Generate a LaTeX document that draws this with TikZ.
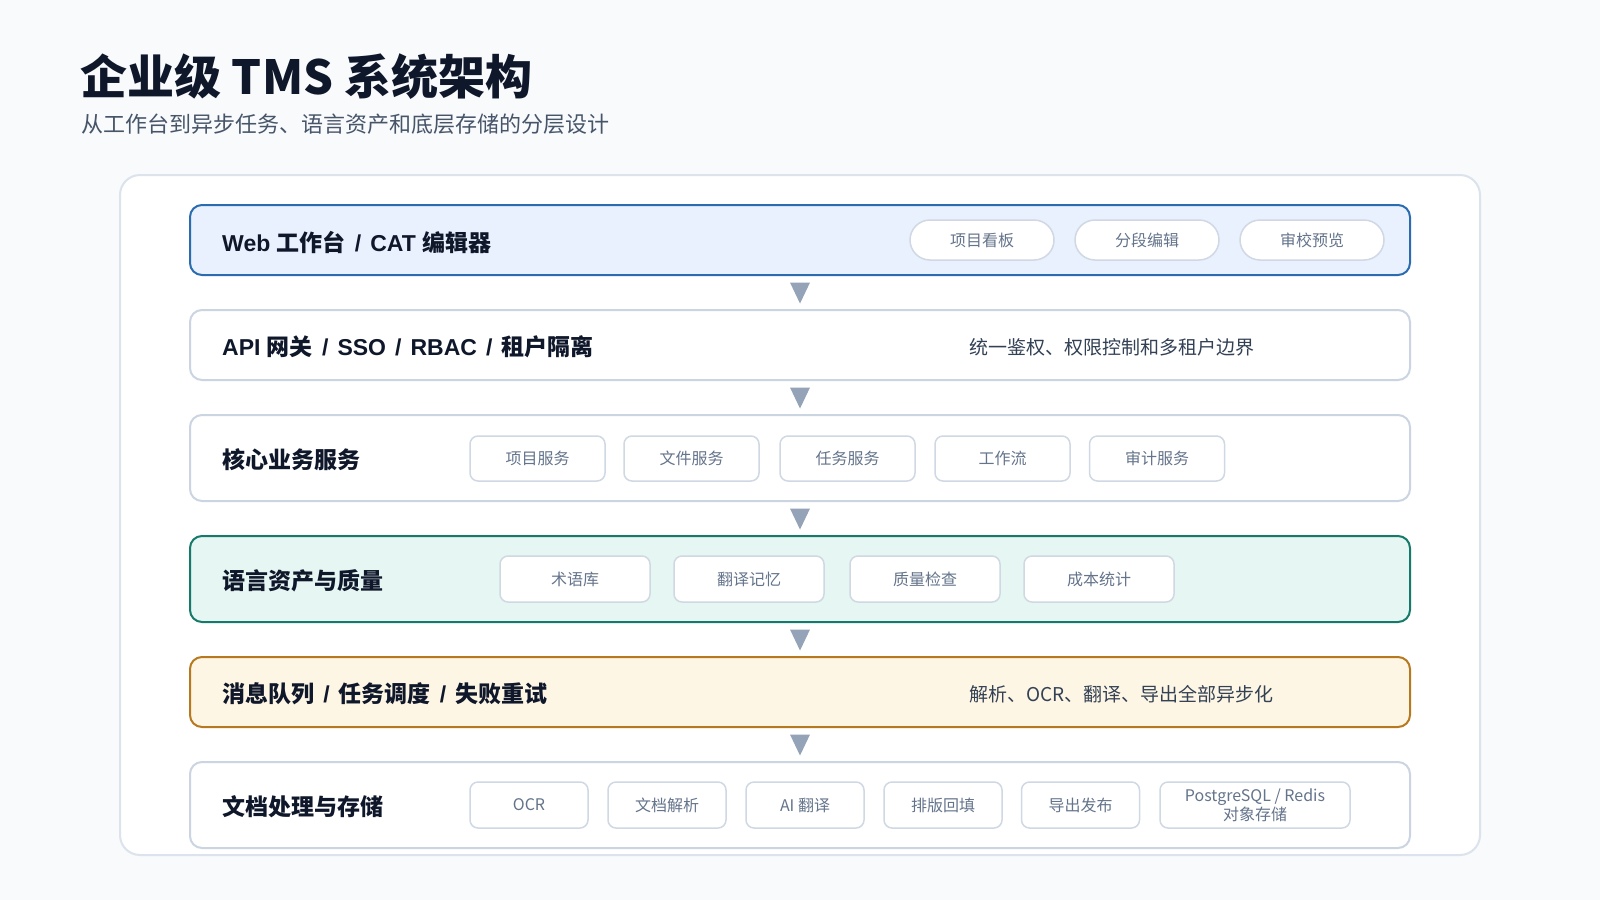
\documentclass[tikz,border=0pt]{standalone}
\usepackage{fontspec}
\setmainfont{Noto Sans CJK SC}
\newfontfamily\latf{Liberation Sans}
\newcommand{\lt}[1]{{\latf\bfseries #1}}
\newcommand{\slh}{{\latf\bfseries\hspace{2.7pt} / \hspace{2.7pt}}}
\usetikzlibrary{calc}
\definecolor{bgc}{HTML}{F8FAFC}
\definecolor{panelb}{HTML}{DCE3EC}
\definecolor{rowb}{HTML}{CBD5E1}
\definecolor{bluef}{HTML}{E8F1FD}
\definecolor{blueb}{HTML}{2B6CB0}
\definecolor{tealf}{HTML}{E6F6F2}
\definecolor{tealb}{HTML}{167A6A}
\definecolor{creamf}{HTML}{FEF6E4}
\definecolor{creamb}{HTML}{B7791F}
\definecolor{pillb}{HTML}{CFD8E3}
\definecolor{pillt}{HTML}{64748B}
\definecolor{labt}{HTML}{0F172A}
\definecolor{rightt}{HTML}{334155}
\definecolor{subt}{HTML}{475569}
\definecolor{arrc}{HTML}{94A3B8}
\tikzset{
  rowbox/.style={draw=rowb, line width=2pt, fill=white, rounded corners=12pt, minimum width=1220pt, inner sep=0pt},
  rowlab/.style={anchor=west, inner sep=0pt, text=labt, font=\fontsize{23}{28}\selectfont\bfseries},
  righttxt/.style={anchor=west, inner sep=0pt, text=rightt, font=\fontsize{19}{24}\selectfont},
  pill/.style={draw=pillb, line width=1.5pt, fill=white, rounded corners=20pt, minimum width=144pt, minimum height=40pt, inner sep=0pt, text=pillt, font=\fontsize{16}{20}\selectfont},
  chip/.style={draw=pillb, line width=1.5pt, fill=white, rounded corners=8pt, minimum height=46pt, inner sep=0pt, text=pillt, font=\fontsize{16}{20}\selectfont, align=center},
  arrowtri/.style={fill=arrc}
}
\begin{document}
\begin{tikzpicture}[x=1pt,y=-1pt]
\fill[bgc] (0,0) rectangle (1600,900);
\useasboundingbox (0,0) rectangle (1600,900);
% title
\node[anchor=west, inner sep=0pt, text=labt, font=\fontsize{47}{56}\selectfont\bfseries] (title) at (80,77) {企业级 TMS 系统架构};
\node[anchor=west, inner sep=0pt, text=subt, font=\fontsize{22}{27}\selectfont] (subtitle) at (81,124) {从工作台到异步任务、语言资产和底层存储的分层设计};
% outer panel
\node[draw=panelb, line width=2pt, fill=white, rounded corners=20pt, minimum width=1360pt, minimum height=680pt, inner sep=0pt] (panel) at (800,515) {};
% rows
\node[rowbox, draw=blueb, fill=bluef, minimum height=70pt] (r1) at (800,240) {};
\node[rowbox, minimum height=70pt] (r2) at (800,345) {};
\node[rowbox, minimum height=86pt] (r3) at (800,458) {};
\node[rowbox, draw=tealb, fill=tealf, minimum height=86pt] (r4) at (800,579) {};
\node[rowbox, draw=creamb, fill=creamf, minimum height=70pt] (r5) at (800,692) {};
\node[rowbox, minimum height=86pt] (r6) at (800,805) {};
% labels
\node[rowlab] (l1) at (222,242) {\lt{Web }工作台\slh\lt{CAT }编辑器};
\node[rowlab] (l2) at (222,347) {\lt{API }网关\slh\lt{SSO}\slh\lt{RBAC}\slh 租户隔离};
\node[rowlab] (l3) at (222,460) {核心业务服务};
\node[rowlab] (l4) at (222,581) {语言资产与质量};
\node[rowlab] (l5) at (222,694) {消息队列\slh 任务调度\slh 失败重试};
\node[rowlab] (l6) at (222,807) {文档处理与存储};
% right texts
\node[righttxt] (t2) at (969,347) {统一鉴权、权限控制和多租户边界};
\node[righttxt] (t5) at (969,694) {解析、OCR、翻译、导出全部异步化};
% row 1 pills
\node[pill] (p11) at (982,240) {项目看板};
\node[pill] (p12) at (1147,240) {分段编辑};
\node[pill] (p13) at (1312,240) {审校预览};
% row 3 chips
\node[chip, minimum width=135pt, minimum height=45pt] (c31) at (537.5,458.5) {项目服务};
\node[chip, minimum width=135pt, minimum height=45pt] (c32) at (691.5,458.5) {文件服务};
\node[chip, minimum width=135pt, minimum height=45pt] (c33) at (847.5,458.5) {任务服务};
\node[chip, minimum width=135pt, minimum height=45pt] (c34) at (1002.5,458.5) {工作流};
\node[chip, minimum width=135pt, minimum height=45pt] (c35) at (1157,458.5) {审计服务};
% row 4 chips
\node[chip, minimum width=150pt] (c41) at (575,579) {术语库};
\node[chip, minimum width=150pt] (c42) at (749,579) {翻译记忆};
\node[chip, minimum width=150pt] (c43) at (925,579) {质量检查};
\node[chip, minimum width=150pt] (c44) at (1099,579) {成本统计};
% row 6 chips
\node[chip, minimum width=118pt] (c61) at (529,805) {OCR};
\node[chip, minimum width=118pt] (c62) at (667,805) {文档解析};
\node[chip, minimum width=118pt] (c63) at (805,805) {AI 翻译};
\node[chip, minimum width=118pt] (c64) at (943,805) {排版回填};
\node[chip, minimum width=118pt] (c65) at (1080.5,805) {导出发布};
\node[chip, minimum width=190pt, font=\fontsize{16}{20}\selectfont] (c66) at (1255,805) {PostgreSQL / Redis\\[-1pt]对象存储};
% arrows between rows
\foreach \a/\b in {r1/r2, r2/r3, r3/r4, r4/r5, r5/r6}{
  \path (\a.south) -- coordinate[midway] (m-\a) (\b.north);
  \fill[arrowtri] ($(m-\a)+(-10,-10)$) -- ($(m-\a)+(10,-10)$) -- ($(m-\a)+(0,11)$) -- cycle;
}
\end{tikzpicture}
\end{document}
